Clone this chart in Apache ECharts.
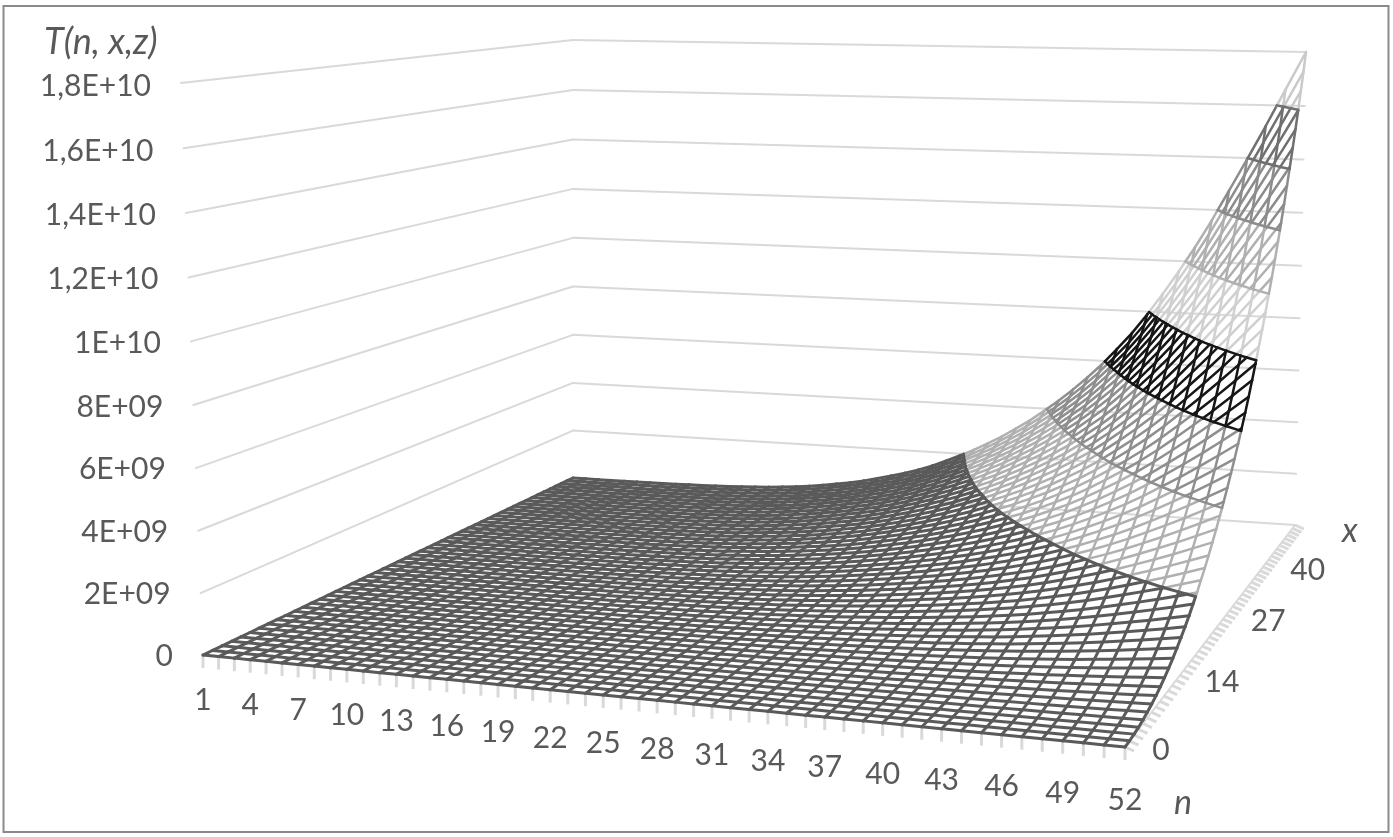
<!DOCTYPE html>
<html><head><meta charset="utf-8">
<style>html,body{margin:0;padding:0;background:#fff}#c{width:1393px;height:837px}</style>
<script src="https://cdn.jsdelivr.net/npm/echarts@6/dist/echarts.min.js"></script>
</head><body><div id="c"></div>
<script>
// Axis labels
const nTickLabels=[1,4,7,10,13,16,19,22,25,28,31,34,37,40,43,46,49,52];
const xTickLabels=[[0,'0'],[13,'14'],[26,'27'],[39,'40']];
const zTickValues=[0,2,4,6,8,10,12,14,16,18];
const zTickLabels=['0','2E+09','4E+09','6E+09','8E+09','1E+10','1,2E+10','1,4E+10','1,6E+10','1,8E+10'];
// T along the back edge (x at its maximum) for n = 1..52, in units of 1E+09
const tBackEdge=[0,0.0001,0.0005,0.0015,0.003,0.006,0.009,0.014,0.02,0.03,0.04,0.055,0.07,0.09,0.12,0.15,0.19,0.24,0.3,0.37,0.46,0.55,0.66,0.79,0.93,1.08,1.25,1.45,1.68,1.93,2.2,2.49,2.8,3.15,3.51,3.92,4.35,4.82,5.33,5.88,6.5,7.15,7.9,8.72,9.6,10.55,11.6,12.75,13.95,15.22,16.58,18];
// T along the right edge (n = 52) for the 51 x rows, in units of 1E+09
const tRightEdge=[0,0.007,0.03,0.065,0.115,0.18,0.26,0.35,0.46,0.58,0.72,0.87,1.04,1.22,1.41,1.62,1.85,2.08,2.34,2.6,2.88,3.18,3.49,3.81,4.15,4.5,4.87,5.25,5.65,6.07,6.5,6.95,7.42,7.9,8.4,8.9,9.42,9.96,10.5,11.07,11.64,12.23,12.84,13.45,14.07,14.7,15.33,15.98,16.64,17.31,18];
// One wire colour and width per 2E+09 band
const bandColors=['#5a5a5a','#b0b0b0','#8f8f8f','#161616','#d0d0d0','#b0b0b0','#8c8c8c','#707070','#cacaca'];
const bandWidths=[3,2.5,2.5,2.5,2.5,2.5,2.5,2.5,2.5];
const wallColor='#d9d9d9', textColor='#595959', font='Lato, Carlito, sans-serif';

const NN=tBackEdge.length, NX=tRightEdge.length, TOP=18;
const surface=tBackEdge.map(a=>tRightEdge.map(b=>a*b/TOP));

// Perspective camera: floor plane and top plane of the box, calibrated on its corners
function planeMap(P00,P10,P11,P01){
  const sx=P00[0]-P10[0]+P11[0]-P01[0], sy=P00[1]-P10[1]+P11[1]-P01[1];
  const dx1=P10[0]-P11[0],dx2=P01[0]-P11[0],dy1=P10[1]-P11[1],dy2=P01[1]-P11[1];
  const den=dx1*dy2-dx2*dy1;
  const g=(sx*dy2-dx2*sy)/den,h=(dx1*sy-sx*dy1)/den;
  const a=P10[0]-P00[0]+g*P10[0],b=P01[0]-P00[0]+h*P01[0],c=P00[0];
  const d=P10[1]-P00[1]+g*P10[1],e=P01[1]-P00[1]+h*P01[1],f=P00[1];
  return (u,v)=>{const W=g*u+h*v+1;return [(a*u+b*v+c)/W,(d*u+e*v+f)/W];};
}
const floorPlane=planeMap([203,655],[1125,747],[1295,525],[573,478]);
const topPlane=planeMap([181,83],[1133,132],[1306,52],[573,40]);
function project(n,xi,T){
  const u=(n-1)/(NN-1),v=xi/(NX-1),r=T/TOP,t=r/(1+0.03*(1-r));
  const F=floorPlane(u,v),G=topPlane(u,v);
  return [F[0]+(G[0]-F[0])*t,F[1]+(G[1]-F[1])*t];
}

// Mesh wires, cut at band limits
const wires=[];
function addWire(n1,x1,T1,n2,x2,T2){
  const stops=[0];
  const lo=Math.min(T1,T2),hi=Math.max(T1,T2);
  for(let L=2;L<TOP;L+=2){if(L>lo&&L<hi)stops.push((L-T1)/(T2-T1));}
  stops.push(1);stops.sort((p,q)=>p-q);
  for(let i=0;i<stops.length-1;i++){
    const s=stops[i],e=stops[i+1],mid=T1+(T2-T1)*(s+e)/2;
    wires.push([n1+(n2-n1)*s,x1+(x2-x1)*s,T1+(T2-T1)*s,n1+(n2-n1)*e,x1+(x2-x1)*e,T1+(T2-T1)*e,Math.min(8,Math.floor(mid/2))]);
  }
}
for(let a=0;a<NN;a++)for(let b=0;b<NX;b++){
  if(b<NX-1)addWire(a+1,b,surface[a][b],a+1,b+1,surface[a][b+1]);
  if(a<NN-1)addWire(a+1,b,surface[a][b],a+2,b,surface[a+1][b]);
}
// Band limit curves, in the darker of the two neighbouring colours
const limits=[];
function lum(c){return parseInt(c.slice(1,3),16);}
for(let L=2;L<TOP;L+=2){
  const band=lum(bandColors[L/2-1])<lum(bandColors[L/2])?L/2-1:L/2;
  for(let a=0;a<NN-1;a++)for(let b=0;b<NX-1;b++){
    const cs=[[a,b],[a+1,b],[a+1,b+1],[a,b+1]],pts=[];
    for(let k=0;k<4;k++){
      const P=cs[k],Q=cs[(k+1)%4],v1=surface[P[0]][P[1]],v2=surface[Q[0]][Q[1]];
      if((v1-L)*(v2-L)<0){const s=(L-v1)/(v2-v1);pts.push([P[0]+1+(Q[0]-P[0])*s,P[1]+(Q[1]-P[1])*s]);}
    }
    if(pts.length>=2)limits.push([pts[0][0],pts[0][1],L,pts[1][0],pts[1][1],L,band]);
  }
}
// Box: wall lines and axis ticks
const walls=[];
zTickValues.forEach(z=>{
  walls.push([1,0,z,1,NX-1,z]);
  walls.push([1,NX-1,z,NN,NX-1,z]);
});
walls.push([1,0,0,NN,0,0],[NN,0,0,NN,NX-1,0]);
const nTicks=[];for(let n=1;n<=NN;n++)nTicks.push([n,0]);
const xTicks=[];for(let i=0;i<NX;i++)xTicks.push([NN,i]);

function segRender(colorFn,widthFn){
  return function(params,api){
    const A=api.coord(project(api.value(0),api.value(1),api.value(2)));
    const B=api.coord(project(api.value(3),api.value(4),api.value(5)));
    return {type:'line',silent:true,shape:{x1:A[0],y1:A[1],x2:B[0],y2:B[1]},style:{stroke:colorFn(api),lineWidth:widthFn(api),lineCap:'round'}};
  };
}
function tickRender(dx,dy){
  return function(params,api){
    const A=api.coord(project(api.value(0),api.value(1),0));
    return {type:'line',silent:true,shape:{x1:A[0],y1:A[1],x2:A[0]+dx,y2:A[1]+dy},style:{stroke:wallColor,lineWidth:3}};
  };
}
function textItem(x,y,text,align,style){
  return {type:'text',silent:true,style:Object.assign({x,y,text,align,verticalAlign:'middle',fill:textColor,font:'30px '+font},style||{})};
}
const bandColor=api=>bandColors[api.value(6)], bandWidth=api=>bandWidths[api.value(6)];
const base={type:'custom',coordinateSystem:'cartesian2d',animation:false,silent:true,progressive:0,encode:{x:0,y:1},clip:false};
const chart=echarts.init(document.getElementById('c'),null,{renderer:'canvas'});
chart.setOption({
  animation:false,backgroundColor:'#fff',
  grid:{left:0,top:0,width:1393,height:837},
  xAxis:{type:'value',min:0,max:1393,show:false},
  yAxis:{type:'value',min:0,max:837,inverse:true,show:false},
  tooltip:{show:false},
  graphic:[{type:'rect',silent:true,shape:{x:3.5,y:6,width:1385,height:826},style:{fill:'none',stroke:'#8a8a8a',lineWidth:2},z:50}],
  series:[
    Object.assign({},base,{name:'walls',z:1,data:walls,renderItem:segRender(()=>wallColor,()=>2)}),
    Object.assign({},base,{name:'nTicks',z:1,data:nTicks,renderItem:tickRender(0,13)}),
    Object.assign({},base,{name:'xTicks',z:1,data:xTicks,renderItem:tickRender(9,4)}),
    Object.assign({},base,{name:'surface',z:3,data:wires,renderItem:segRender(bandColor,bandWidth)}),
    Object.assign({},base,{name:'limits',z:4,data:limits,renderItem:segRender(bandColor,bandWidth)}),
    Object.assign({},base,{name:'zLabels',z:5,data:zTickValues.map(z=>[1,0,z]),renderItem:function(p,api){
      const A=api.coord(project(api.value(0),api.value(1),api.value(2)));
      return textItem(A[0]-30,A[1]+1+2*api.value(2)/TOP,zTickLabels[p.dataIndex],'right');}}),
    Object.assign({},base,{name:'nLabels',z:5,data:nTickLabels.map(n=>[n,0]),renderItem:function(p,api){
      const A=api.coord(project(api.value(0),api.value(1),0));
      return textItem(A[0],A[1]+45+8*(api.value(0)-1)/51,String(nTickLabels[p.dataIndex]),'center');}}),
    Object.assign({},base,{name:'xLabels',z:5,data:xTickLabels.map(d=>[NN,d[0]]),renderItem:function(p,api){
      const A=api.coord(project(api.value(0),api.value(1),0));
      const near=Math.min(api.value(1),13)/13;
      return textItem(A[0]+36+6*near,A[1]+3+4*near,xTickLabels[p.dataIndex][1],'center');}}),
    Object.assign({},base,{name:'titles',z:5,data:[[1393,0]],renderItem:function(){
      return {type:'group',silent:true,children:[
        textItem(44,42,'T(n, x,z)','left',{font:'italic 36px '+font}),
        textItem(1183,803,'n','center',{font:'italic 34px '+font}),
        textItem(1350,531,'x','center',{font:'italic 34px '+font})
      ]};}})
  ]
});
</script></body></html>
